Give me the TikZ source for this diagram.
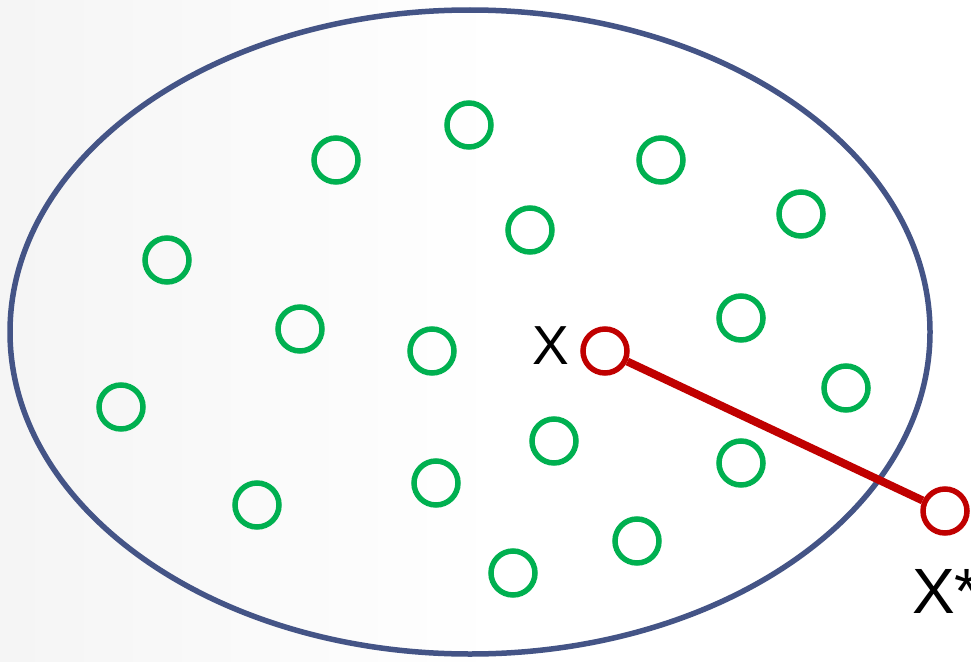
\documentclass[tikz,border=0pt]{standalone}
\usepackage{fontspec}
\setmainfont{Liberation Sans}
\begin{document}
\begin{tikzpicture}[x=1pt,y=-1pt,
  pt/.style={circle,draw=ptgreen,line width=5.5pt,minimum size=44pt,inner sep=0pt},
  rpt/.style={circle,draw=ptred,line width=5.5pt,minimum size=44pt,inner sep=0pt},
  lbl/.style={inner sep=0pt,font=\fontsize{55}{62}\selectfont}]
\definecolor{ptgreen}{RGB}{0,176,80}
\definecolor{ptred}{RGB}{192,0,0}
\definecolor{ellblue}{RGB}{68,84,134}
\useasboundingbox (0,0) rectangle (971,661);
\shade[left color=black!4,right color=white] (0,0) rectangle (500,661);
\draw[ellblue,line width=5.5pt] (470,332) ellipse [x radius=460, y radius=322];
\foreach \n/\x/\y in {1/469/125,2/336/160,3/661/160,4/530/230,5/801/214,6/167/260,7/300/329,8/432/351,9/741/318,10/846/388,11/121/407,12/554/441,13/741/463,14/257/505,15/436/483,16/637/541,17/513/573}
  \node[pt] (g\n) at (\x,\y) {};
\node[rpt] (x) at (605,351) {};
\node[rpt] (xs) at (945,511) {};
\draw[ptred,line width=8pt] (x) -- (xs);
\node[lbl] (xl) at (551,346) {X};
\node[lbl,anchor=west,font=\fontsize{64}{70}\selectfont] (xsl) at (912,591) {X*};
\end{tikzpicture}
\end{document}
